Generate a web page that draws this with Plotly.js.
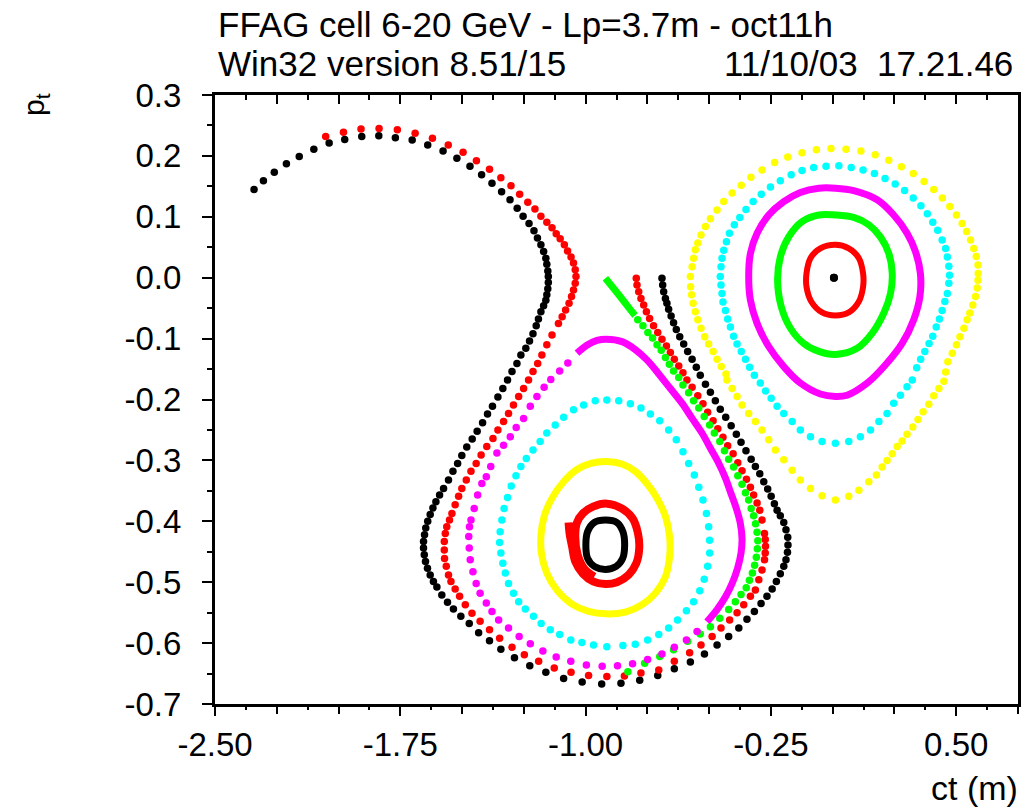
<!DOCTYPE html>
<html>
<head>
<meta charset="utf-8">
<script src="https://cdn.plot.ly/plotly-3.0.1.min.js"></script>
<style>html,body{margin:0;padding:0;background:#fff;}#chart{width:1027px;height:809px;}</style>
</head>
<body>
<div id="chart"></div>
<script>
// ---------------- data (ct [m], p_t) ----------------
const blackOuter = [[-2.342,0.145],[-2.304,0.159],[-2.260,0.173],[-2.211,0.187],[-2.159,0.199],[-2.100,0.211],[-2.038,0.221],[-1.975,0.227],[-1.906,0.232],[-1.837,0.233],[-1.770,0.230],[-1.702,0.226],[-1.639,0.218],[-1.577,0.208],[-1.521,0.196],[-1.468,0.183],[-1.421,0.169],[-1.379,0.155],[-1.340,0.141],[-1.306,0.128],[-1.277,0.114],[-1.253,0.101],[-1.229,0.089],[-1.209,0.077],[-1.195,0.065],[-1.181,0.054],[-1.170,0.043],[-1.161,0.032],[-1.157,0.022],[-1.153,0.011],[-1.151,0.002],[-1.151,-0.008],[-1.153,-0.018],[-1.157,-0.028],[-1.161,-0.037],[-1.170,-0.046],[-1.181,-0.056],[-1.191,-0.068],[-1.200,-0.079],[-1.213,-0.092],[-1.227,-0.104],[-1.242,-0.116],[-1.262,-0.127],[-1.278,-0.141],[-1.298,-0.154],[-1.316,-0.168],[-1.335,-0.182],[-1.355,-0.196],[-1.377,-0.211],[-1.397,-0.224],[-1.417,-0.238],[-1.439,-0.252],[-1.459,-0.265],[-1.481,-0.278],[-1.501,-0.292],[-1.518,-0.305],[-1.537,-0.318],[-1.555,-0.332],[-1.575,-0.346],[-1.591,-0.357],[-1.606,-0.368],[-1.618,-0.378],[-1.629,-0.389],[-1.639,-0.400],[-1.647,-0.411],[-1.652,-0.422],[-1.656,-0.433],[-1.656,-0.444],[-1.653,-0.455],[-1.648,-0.466],[-1.640,-0.477],[-1.629,-0.488],[-1.616,-0.499],[-1.602,-0.508],[-1.582,-0.521],[-1.559,-0.533],[-1.535,-0.544],[-1.505,-0.556],[-1.471,-0.568],[-1.433,-0.583],[-1.389,-0.596],[-1.343,-0.610],[-1.288,-0.624],[-1.226,-0.637],[-1.161,-0.648],[-1.089,-0.658],[-1.014,-0.664],[-0.935,-0.667],[-0.857,-0.666],[-0.781,-0.661],[-0.708,-0.653],[-0.641,-0.642],[-0.576,-0.631],[-0.519,-0.618],[-0.468,-0.603],[-0.421,-0.589],[-0.380,-0.575],[-0.347,-0.561],[-0.317,-0.548],[-0.290,-0.535],[-0.266,-0.523],[-0.245,-0.511],[-0.228,-0.499],[-0.212,-0.486],[-0.198,-0.474],[-0.189,-0.463],[-0.183,-0.451],[-0.181,-0.439],[-0.182,-0.426],[-0.189,-0.414],[-0.198,-0.402],[-0.212,-0.391],[-0.225,-0.382],[-0.236,-0.371],[-0.249,-0.359],[-0.263,-0.347],[-0.279,-0.335],[-0.295,-0.322],[-0.313,-0.310],[-0.330,-0.298],[-0.351,-0.284],[-0.371,-0.270],[-0.390,-0.257],[-0.411,-0.243],[-0.433,-0.229],[-0.455,-0.216],[-0.475,-0.202],[-0.495,-0.188],[-0.515,-0.175],[-0.536,-0.160],[-0.552,-0.147],[-0.569,-0.134],[-0.587,-0.121],[-0.603,-0.109],[-0.619,-0.097],[-0.633,-0.085],[-0.644,-0.074],[-0.654,-0.063],[-0.664,-0.052],[-0.671,-0.042],[-0.677,-0.034],[-0.684,-0.023],[-0.688,-0.012],[-0.691,-0.001]];

const redOuter = [[-2.052,0.232],[-1.980,0.239],[-1.909,0.244],[-1.836,0.245],[-1.762,0.243],[-1.690,0.237],[-1.620,0.229],[-1.556,0.218],[-1.496,0.206],[-1.442,0.192],[-1.389,0.178],[-1.343,0.164],[-1.302,0.151],[-1.267,0.137],[-1.234,0.124],[-1.205,0.113],[-1.181,0.101],[-1.157,0.091],[-1.136,0.082],[-1.119,0.072],[-1.103,0.064],[-1.086,0.054],[-1.073,0.044],[-1.059,0.034],[-1.049,0.024],[-1.042,0.013],[-1.039,0.002],[-1.042,-0.009],[-1.049,-0.020],[-1.057,-0.031],[-1.067,-0.042],[-1.081,-0.053],[-1.095,-0.064],[-1.110,-0.075],[-1.136,-0.094],[-1.157,-0.110],[-1.177,-0.127],[-1.194,-0.141],[-1.213,-0.154],[-1.231,-0.168],[-1.251,-0.182],[-1.271,-0.195],[-1.292,-0.209],[-1.312,-0.223],[-1.332,-0.236],[-1.355,-0.250],[-1.375,-0.264],[-1.400,-0.277],[-1.423,-0.291],[-1.443,-0.305],[-1.464,-0.318],[-1.483,-0.332],[-1.501,-0.346],[-1.514,-0.359],[-1.528,-0.373],[-1.541,-0.387],[-1.551,-0.398],[-1.562,-0.409],[-1.568,-0.420],[-1.572,-0.433],[-1.572,-0.447],[-1.571,-0.461],[-1.564,-0.474],[-1.555,-0.488],[-1.545,-0.499],[-1.528,-0.511],[-1.510,-0.523],[-1.487,-0.537],[-1.460,-0.551],[-1.427,-0.564],[-1.389,-0.578],[-1.348,-0.592],[-1.298,-0.607],[-1.248,-0.619],[-1.190,-0.630],[-1.127,-0.641],[-1.059,-0.648],[-0.988,-0.653],[-0.914,-0.655],[-0.843,-0.654],[-0.776,-0.649],[-0.704,-0.644],[-0.641,-0.630],[-0.579,-0.616],[-0.533,-0.603],[-0.488,-0.589],[-0.452,-0.575],[-0.417,-0.562],[-0.387,-0.550],[-0.360,-0.537],[-0.333,-0.523],[-0.313,-0.513],[-0.299,-0.496],[-0.286,-0.480],[-0.276,-0.463],[-0.273,-0.452],[-0.272,-0.441],[-0.273,-0.430],[-0.276,-0.420],[-0.286,-0.398],[-0.295,-0.382],[-0.306,-0.370],[-0.320,-0.357],[-0.333,-0.344],[-0.349,-0.331],[-0.367,-0.317],[-0.384,-0.304],[-0.403,-0.289],[-0.425,-0.276],[-0.444,-0.262],[-0.465,-0.248],[-0.484,-0.235],[-0.506,-0.221],[-0.525,-0.207],[-0.546,-0.194],[-0.569,-0.180],[-0.590,-0.168],[-0.606,-0.156],[-0.623,-0.145],[-0.641,-0.134],[-0.657,-0.123],[-0.673,-0.112],[-0.691,-0.101],[-0.708,-0.090],[-0.725,-0.079],[-0.741,-0.067],[-0.754,-0.056],[-0.765,-0.045],[-0.776,-0.034],[-0.785,-0.023],[-0.792,-0.012],[-0.795,-0.001]];

const greenSepHead = [[-0.920,-0.001],[-0.866,-0.028],[-0.812,-0.056],[-0.800,-0.062]];
const greenSep = [[-0.789,-0.069],[-0.768,-0.079],[-0.748,-0.090],[-0.729,-0.099],[-0.711,-0.110],[-0.694,-0.119],[-0.677,-0.131],[-0.661,-0.142],[-0.644,-0.153],[-0.623,-0.164],[-0.606,-0.176],[-0.583,-0.189],[-0.563,-0.202],[-0.542,-0.214],[-0.520,-0.228],[-0.498,-0.242],[-0.479,-0.255],[-0.457,-0.269],[-0.438,-0.284],[-0.421,-0.298],[-0.401,-0.311],[-0.384,-0.325],[-0.367,-0.339],[-0.353,-0.353],[-0.340,-0.365],[-0.330,-0.379],[-0.320,-0.391],[-0.312,-0.404],[-0.306,-0.418],[-0.303,-0.432],[-0.305,-0.445],[-0.309,-0.459],[-0.316,-0.472],[-0.325,-0.485],[-0.337,-0.497],[-0.350,-0.509],[-0.371,-0.520],[-0.394,-0.532],[-0.421,-0.545],[-0.457,-0.559],[-0.495,-0.573],[-0.536,-0.585],[-0.587,-0.597],[-0.644,-0.611],[-0.700,-0.622],[-0.761,-0.633],[-0.829,-0.647]];

const magentaLowerTop = [[-1.035,-0.124],[-0.995,-0.111],[-0.954,-0.103],[-0.916,-0.101],[-0.853,-0.105],[-0.799,-0.118],[-0.752,-0.135],[-0.704,-0.158],[-0.657,-0.182],[-0.610,-0.206],[-0.569,-0.231],[-0.529,-0.255],[-0.495,-0.280],[-0.461,-0.305],[-0.434,-0.329],[-0.412,-0.354],[-0.390,-0.379],[-0.374,-0.403],[-0.367,-0.428],[-0.371,-0.452],[-0.385,-0.477],[-0.407,-0.502],[-0.434,-0.524],[-0.468,-0.545],[-0.509,-0.565]];
const magentaLowerBottom = [[-0.549,-0.581],[-0.592,-0.595],[-0.641,-0.607],[-0.691,-0.618],[-0.749,-0.627],[-0.810,-0.634],[-0.871,-0.637],[-0.933,-0.638],[-0.997,-0.636],[-1.060,-0.630],[-1.119,-0.623],[-1.173,-0.613],[-1.224,-0.601],[-1.269,-0.589],[-1.312,-0.575],[-1.352,-0.562],[-1.379,-0.548],[-1.402,-0.534],[-1.427,-0.518],[-1.443,-0.502],[-1.456,-0.483],[-1.467,-0.463],[-1.471,-0.444],[-1.473,-0.425],[-1.470,-0.409],[-1.464,-0.398],[-1.451,-0.379],[-1.437,-0.357],[-1.420,-0.338],[-1.402,-0.327],[-1.384,-0.310],[-1.359,-0.288],[-1.332,-0.275],[-1.305,-0.261],[-1.281,-0.246],[-1.251,-0.231],[-1.224,-0.211],[-1.197,-0.195],[-1.168,-0.180],[-1.141,-0.167],[-1.105,-0.153],[-1.072,-0.140]];

const cyanLower = [[-0.914,-0.201],[-0.866,-0.202],[-0.819,-0.207],[-0.776,-0.214],[-0.738,-0.224],[-0.700,-0.235],[-0.664,-0.250],[-0.633,-0.266],[-0.606,-0.286],[-0.583,-0.305],[-0.560,-0.324],[-0.542,-0.344],[-0.525,-0.365],[-0.511,-0.387],[-0.502,-0.409],[-0.498,-0.431],[-0.498,-0.452],[-0.506,-0.474],[-0.520,-0.495],[-0.538,-0.514],[-0.563,-0.532],[-0.592,-0.547],[-0.628,-0.562],[-0.664,-0.575],[-0.704,-0.586],[-0.749,-0.595],[-0.799,-0.602],[-0.849,-0.604],[-0.914,-0.606],[-0.968,-0.603],[-1.015,-0.599],[-1.060,-0.595],[-1.105,-0.586],[-1.143,-0.578],[-1.180,-0.568],[-1.211,-0.556],[-1.244,-0.544],[-1.271,-0.532],[-1.292,-0.518],[-1.312,-0.502],[-1.325,-0.485],[-1.335,-0.469],[-1.343,-0.452],[-1.348,-0.435],[-1.346,-0.417],[-1.339,-0.398],[-1.330,-0.379],[-1.316,-0.361],[-1.301,-0.342],[-1.282,-0.325],[-1.262,-0.310],[-1.240,-0.297],[-1.213,-0.283],[-1.184,-0.269],[-1.157,-0.255],[-1.123,-0.242],[-1.089,-0.229],[-1.049,-0.217],[-1.008,-0.209],[-0.961,-0.202]];

const yellowLower = [[-0.916,-0.302],[-0.853,-0.306],[-0.799,-0.318],[-0.752,-0.338],[-0.711,-0.362],[-0.677,-0.392],[-0.660,-0.425],[-0.660,-0.458],[-0.677,-0.491],[-0.718,-0.518],[-0.772,-0.537],[-0.839,-0.549],[-0.916,-0.552],[-0.988,-0.548],[-1.055,-0.536],[-1.116,-0.513],[-1.157,-0.485],[-1.178,-0.455],[-1.181,-0.425],[-1.168,-0.392],[-1.136,-0.362],[-1.089,-0.335],[-1.035,-0.315],[-0.979,-0.305],[-0.916,-0.302]];

const redSpiral = [[-1.069,-0.402],[-1.065,-0.420],[-1.055,-0.441],[-1.042,-0.466],[-1.011,-0.486],[-0.968,-0.499],[-0.920,-0.503],[-0.873,-0.500],[-0.826,-0.488],[-0.795,-0.469],[-0.783,-0.444],[-0.788,-0.420],[-0.810,-0.395],[-0.853,-0.379],[-0.914,-0.371],[-0.970,-0.376],[-1.011,-0.387],[-1.035,-0.402],[-1.042,-0.425],[-1.032,-0.455],[-1.005,-0.478],[-0.965,-0.491]];

const blackInner = [[-0.920,-0.398],[-0.873,-0.402],[-0.849,-0.417],[-0.842,-0.439],[-0.850,-0.461],[-0.876,-0.474],[-0.920,-0.479],[-0.965,-0.474],[-0.992,-0.461],[-0.999,-0.439],[-0.992,-0.417],[-0.965,-0.402],[-0.920,-0.398]];

const yellowRight = [[-0.576,0.002],[-0.569,0.018],[-0.563,0.032],[-0.556,0.046],[-0.546,0.057],[-0.533,0.070],[-0.515,0.084],[-0.495,0.097],[-0.468,0.111],[-0.441,0.125],[-0.407,0.139],[-0.370,0.152],[-0.331,0.165],[-0.286,0.177],[-0.235,0.189],[-0.182,0.198],[-0.124,0.205],[-0.066,0.210],[-0.007,0.212],[0.054,0.211],[0.114,0.208],[0.172,0.202],[0.227,0.193],[0.278,0.182],[0.326,0.171],[0.370,0.158],[0.409,0.145],[0.444,0.131],[0.474,0.117],[0.501,0.103],[0.524,0.089],[0.542,0.076],[0.558,0.062],[0.571,0.048],[0.581,0.035],[0.588,0.021],[0.589,0.007],[0.588,-0.004],[0.585,-0.017],[0.578,-0.031],[0.567,-0.045],[0.555,-0.058],[0.544,-0.069],[0.531,-0.083],[0.515,-0.097],[0.501,-0.110],[0.484,-0.124],[0.466,-0.138],[0.457,-0.155],[0.450,-0.170],[0.430,-0.182],[0.409,-0.194],[0.389,-0.208],[0.366,-0.220],[0.345,-0.233],[0.324,-0.245],[0.301,-0.257],[0.281,-0.268],[0.261,-0.277],[0.241,-0.289],[0.220,-0.300],[0.200,-0.311],[0.177,-0.324],[0.146,-0.335],[0.106,-0.349],[0.065,-0.359],[0.011,-0.365],[-0.043,-0.358],[-0.090,-0.346],[-0.131,-0.332],[-0.164,-0.316],[-0.198,-0.299],[-0.232,-0.283],[-0.259,-0.266],[-0.286,-0.250],[-0.313,-0.236],[-0.340,-0.223],[-0.367,-0.209],[-0.387,-0.195],[-0.407,-0.182],[-0.428,-0.168],[-0.432,-0.158],[-0.451,-0.146],[-0.468,-0.134],[-0.484,-0.121],[-0.502,-0.109],[-0.518,-0.097],[-0.533,-0.083],[-0.546,-0.069],[-0.556,-0.056],[-0.565,-0.042],[-0.571,-0.028],[-0.575,-0.015]];

const cyanRight = [[-0.455,0.002],[-0.452,0.018],[-0.448,0.032],[-0.441,0.045],[-0.430,0.059],[-0.418,0.073],[-0.398,0.087],[-0.376,0.099],[-0.351,0.112],[-0.322,0.125],[-0.289,0.137],[-0.252,0.149],[-0.212,0.159],[-0.168,0.169],[-0.124,0.176],[-0.077,0.181],[-0.027,0.183],[0.025,0.184],[0.075,0.181],[0.123,0.177],[0.169,0.171],[0.212,0.163],[0.253,0.154],[0.291,0.143],[0.326,0.131],[0.357,0.118],[0.383,0.105],[0.405,0.091],[0.425,0.078],[0.443,0.062],[0.457,0.048],[0.464,0.034],[0.470,0.019],[0.473,0.004],[0.470,-0.009],[0.464,-0.026],[0.454,-0.039],[0.443,-0.054],[0.432,-0.068],[0.419,-0.081],[0.405,-0.096],[0.390,-0.108],[0.373,-0.121],[0.356,-0.134],[0.340,-0.148],[0.322,-0.168],[0.301,-0.179],[0.274,-0.193],[0.247,-0.206],[0.220,-0.223],[0.187,-0.236],[0.153,-0.250],[0.112,-0.261],[0.065,-0.269],[0.011,-0.272],[-0.043,-0.269],[-0.090,-0.261],[-0.131,-0.250],[-0.164,-0.236],[-0.198,-0.223],[-0.225,-0.211],[-0.249,-0.198],[-0.272,-0.186],[-0.293,-0.173],[-0.317,-0.160],[-0.336,-0.147],[-0.353,-0.134],[-0.370,-0.121],[-0.387,-0.109],[-0.401,-0.096],[-0.414,-0.081],[-0.425,-0.068],[-0.434,-0.054],[-0.444,-0.040],[-0.448,-0.026],[-0.452,-0.012]];

const magentaRight = [[0.011,0.147],[0.085,0.143],[0.180,0.128],[0.247,0.103],[0.301,0.073],[0.335,0.043],[0.355,0.007],[0.353,-0.031],[0.328,-0.069],[0.281,-0.108],[0.214,-0.143],[0.140,-0.173],[0.058,-0.193],[0.011,-0.195],[-0.050,-0.191],[-0.131,-0.173],[-0.198,-0.146],[-0.259,-0.113],[-0.306,-0.075],[-0.333,-0.037],[-0.340,0.002],[-0.333,0.040],[-0.306,0.073],[-0.259,0.103],[-0.198,0.125],[-0.131,0.140],[-0.056,0.147],[0.011,0.147]];

const greenRight = [[0.011,0.103],[0.085,0.099],[0.146,0.087],[0.193,0.067],[0.227,0.040],[0.241,0.007],[0.234,-0.026],[0.207,-0.058],[0.160,-0.091],[0.099,-0.116],[0.011,-0.126],[-0.056,-0.121],[-0.117,-0.108],[-0.171,-0.083],[-0.208,-0.048],[-0.223,-0.004],[-0.212,0.034],[-0.178,0.067],[-0.124,0.092],[-0.056,0.103],[0.011,0.103]];

const redRight = [[0.011,0.054],[0.065,0.048],[0.106,0.032],[0.123,0.007],[0.123,-0.015],[0.106,-0.039],[0.065,-0.057],[0.011,-0.062],[-0.043,-0.057],[-0.087,-0.039],[-0.106,-0.015],[-0.106,0.007],[-0.090,0.032],[-0.050,0.048],[0.011,0.054]];

const blackCenter = [[0.005,0.0]];

// axis ticks
const xMajor = [-2.5,-2.25,-2.0,-1.75,-1.5,-1.25,-1.0,-0.75,-0.5,-0.25,0.0,0.25,0.5,0.75];
const xLabelVals = [-2.5,-1.75,-1.0,-0.25,0.5];
const xLabelText = ['-2.50','-1.75','-1.00','-0.25','0.50'];
const xMinor = [-2.375,-2.125,-1.875,-1.625,-1.375,-1.125,-0.875,-0.625,-0.375,-0.125,0.125,0.375,0.625];
const yMajor = [-0.7,-0.6,-0.5,-0.4,-0.3,-0.2,-0.1,0.0,0.1,0.2,0.3];
const yMajorText = ['-0.7','-0.6','-0.5','-0.4','-0.3','-0.2','-0.1','0.0','0.1','0.2','0.3'];
const yMinor = [-0.65,-0.55,-0.45,-0.35,-0.25,-0.15,-0.05,0.05,0.15,0.25];

const titleLine1 = 'FFAG cell 6-20 GeV - Lp=3.7m - oct11h';
const titleLine2a = 'Win32 version 8.51/15';
const titleLine2b = '11/10/03\u00a0\u00a017.21.46';
const xLabel = 'ct (m)';
const yLabel = 'p<sub>t</sub>';

// ---------------- drawing ----------------
const FONT = 'Liberation Sans, Arial, Helvetica, sans-serif';
const W = 1027, H = 809, L = 215, R = 9, T = 95, B = 105;
const fx = p => (p - L) / (W - L - R);
const fy = p => (H - B - p) / (H - T - B);
const xs = a => a.map(p => p[0]);
const ys = a => a.map(p => p[1]);

function dots(arr, color, size, axis) {
  const t = {x: xs(arr), y: ys(arr), type: 'scatter', mode: 'markers', hoverinfo: 'skip',
    marker: {color: color, size: size || 7.5, symbol: 'circle', line: {width: 0}}, showlegend: false};
  if (axis) t.xaxis = axis;
  return t;
}
function ring(arr, color, width) {
  return {x: xs(arr), y: ys(arr), type: 'scatter', mode: 'lines', hoverinfo: 'skip',
    line: {color: color, width: width || 7, shape: 'spline', smoothing: 1}, showlegend: false};
}

const traces = [
  dots(blackOuter, '#000000'),
  dots(redOuter, '#ff0000'),
  ring(greenSepHead, '#00ff00', 7),
  dots(greenSep, '#00ff00'),
  ring(magentaLowerTop, '#ff00ff', 7),
  dots(magentaLowerBottom, '#ff00ff'),
  dots(cyanLower, '#00ffff'),
  ring(yellowLower, '#ffff00', 7),
  ring(redSpiral, '#ff0000', 8),
  ring(blackInner, '#000000', 7),
  dots(yellowRight, '#ffff00'),
  dots(cyanRight, '#00ffff'),
  ring(magentaRight, '#ff00ff', 7),
  ring(greenRight, '#00ff00', 7),
  ring(redRight, '#ff0000', 6),
  dots(blackCenter, '#000000', 8, 'x2')
];

const tickFont = {family: FONT, size: 33, color: '#000'};
const tickStyle = {tickcolor: '#000', tickwidth: 2};
const layout = {
  width: W, height: H,
  margin: {l: L, r: R, t: T, b: B, pad: 0},
  paper_bgcolor: '#ffffff', plot_bgcolor: '#ffffff',
  showlegend: false,
  // bottom axis: labels only every 0.75
  xaxis: {
    range: [-2.5, 0.75], tickmode: 'array', tickvals: xLabelVals, ticktext: xLabelText,
    ticks: 'outside', ticklen: 9, tickwidth: 2, tickcolor: '#000',
    showline: true, linewidth: 3, linecolor: '#000', mirror: false,
    showgrid: false, zeroline: false, tickfont: tickFont, ticklabelstandoff: 0, fixedrange: true
  },
  // top axis: inside ticks, no labels
  xaxis2: {
    overlaying: 'x', side: 'top', anchor: 'y',
    range: [-2.5, 0.75], tickmode: 'array', tickvals: xMajor, showticklabels: false,
    ticks: 'inside', ticklen: 9, tickwidth: 2, tickcolor: '#000',
    minor: {tickmode: 'array', tickvals: xMinor, ticks: 'inside', ticklen: 5, tickwidth: 2, tickcolor: '#000', showgrid: false},
    showline: true, linewidth: 3, linecolor: '#000',
    showgrid: false, zeroline: false, fixedrange: true
  },
  // bottom axis: unlabeled tick marks every 0.25 / 0.125
  xaxis3: {
    overlaying: 'x', side: 'bottom', anchor: 'y',
    range: [-2.5, 0.75], tickmode: 'array', tickvals: xMajor, showticklabels: false,
    ticks: 'outside', ticklen: 9, tickwidth: 2, tickcolor: '#000',
    minor: {tickmode: 'array', tickvals: xMinor, ticks: 'outside', ticklen: 5, tickwidth: 2, tickcolor: '#000', showgrid: false},
    showline: false, showgrid: false, zeroline: false, fixedrange: true
  },
  yaxis: {
    range: [-0.7, 0.3], tickmode: 'array', tickvals: yMajor, ticktext: yMajorText,
    ticks: 'outside', ticklen: 10, tickwidth: 2, tickcolor: '#000',
    minor: {tickmode: 'array', tickvals: yMinor, ticks: 'outside', ticklen: 5, tickwidth: 2, tickcolor: '#000', showgrid: false},
    showline: true, linewidth: 3, linecolor: '#000', mirror: true,
    showgrid: false, zeroline: false, tickfont: tickFont, ticklabelstandoff: 14, fixedrange: true
  },
  annotations: [
    {text: titleLine1, xref: 'paper', yref: 'paper', x: fx(216), y: fy(24), xanchor: 'left', yanchor: 'middle', showarrow: false, font: {family: FONT, size: 35, color: '#000'}},
    {text: titleLine2a, xref: 'paper', yref: 'paper', x: fx(216), y: fy(64), xanchor: 'left', yanchor: 'middle', showarrow: false, font: {family: FONT, size: 35, color: '#000'}},
    {text: titleLine2b, xref: 'paper', yref: 'paper', x: fx(1015), y: fy(64), xanchor: 'right', yanchor: 'middle', showarrow: false, font: {family: FONT, size: 35, color: '#000'}},
    {text: xLabel, xref: 'paper', yref: 'paper', x: fx(1020), y: fy(788), xanchor: 'right', yanchor: 'middle', showarrow: false, font: {family: FONT, size: 34, color: '#000'}},
    {text: yLabel, xref: 'paper', yref: 'paper', x: fx(36), y: fy(105), xanchor: 'center', yanchor: 'middle', textangle: -90, showarrow: false, font: {family: FONT, size: 30, color: '#000'}}
  ]
};

// an invisible-free anchor trace for the third x axis (reuses the centre point data)
traces.push(dots(blackCenter, '#000000', 8, 'x3'));

Plotly.newPlot('chart', traces, layout, {staticPlot: true, displayModeBar: false});
</script>
</body>
</html>
